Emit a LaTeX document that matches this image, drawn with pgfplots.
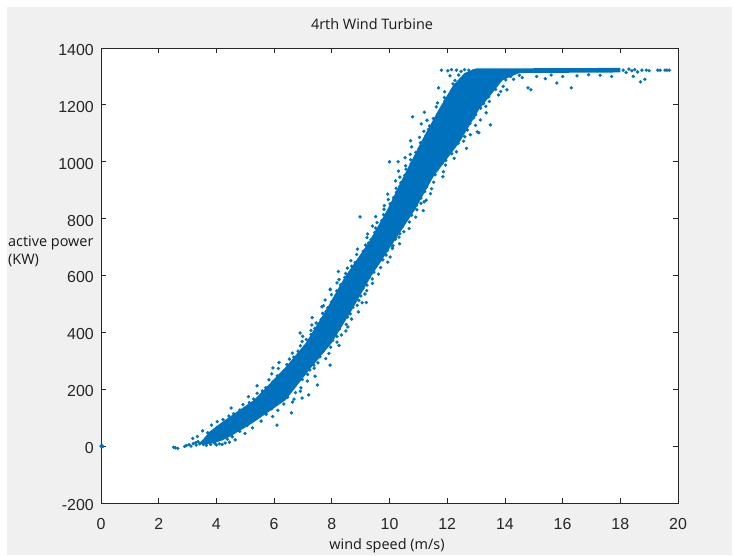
\documentclass[border=0pt]{standalone}
\usepackage{pgfplots}
\pgfplotsset{compat=1.18}
\usepackage{fontspec}
\setmainfont{Open Sans}
\newfontfamily\tickfont{Liberation Sans}
\definecolor{mblue}{HTML}{0072BD}
\definecolor{figbg}{HTML}{F0F0F0}
\begin{document}
\begin{tikzpicture}
\fill[white] (0,0) rectangle (734bp,-556bp);
\fill[figbg] (7bp,-7bp) rectangle (732bp,-555bp);
\begin{axis}[
  at={(101bp,-503bp)}, anchor=south west,
  scale only axis, width=577bp, height=455bp,
  xmin=0, xmax=20, ymin=-200, ymax=1400,
  xtick={0,2,...,20}, ytick={-200,0,...,1400},
  tick align=inside, major tick length=5bp,
  axis background/.style={fill=white},
  axis line style={black!85, line width=0.8bp},
  every tick/.style={black!85, line width=0.8bp},
  ticklabel style={font=\tickfont\fontsize{16}{19}\selectfont, text=black!85},
  /pgf/number format/assume math mode=true,
  /pgf/number format/1000 sep={},
  xticklabel style={anchor=north, inner sep=0pt, yshift=-15bp},
  yticklabel style={anchor=east, inner sep=0pt, xshift=-7bp, yshift=-2bp},
  title={4rth Wind Turbine},
  title style={at={(axis description cs:0.4697,1)}, anchor=base, yshift=13bp, inner sep=0pt, font=\fontsize{14.5}{18}\selectfont, text=black!90},
  xlabel={wind speed (m/s)},
  xlabel style={at={(axis description cs:0.4957,0)}, anchor=base, yshift=-46bp, inner sep=0pt, font=\fontsize{14.5}{18}\selectfont, text=black!90},
  ylabel={active power\\(KW)},
  ylabel style={rotate=-90, align=left, anchor=north west, inner sep=0pt, font=\fontsize{14.5}{18}\selectfont, text=black!90, at={(axis description cs:-0.1612,0.5868)}},
  clip=false,
]
% dense core of the point cloud
\addplot[fill=mblue, draw=none, mark=none, forget plot] coordinates {
(3.4,10)(3.55,25)(3.75,50)(4.15,81)(4.7,120)(5.3,162)(5.85,220)(6.4,278)(7.1,363)(7.8,479)
(8.45,595)(9.27,715)(9.92,831)(10.48,947)(11.08,1067)(11.7,1183)(12.2,1268)(12.6,1312)(13.0,1328)
(18.0,1330)(18.0,1314)(14.5,1312)(13.92,1287)(13.1,1183)(12.42,1067)(11.52,947)(10.88,831)
(10.13,715)(9.35,595)(8.7,479)(8.0,363)(7.3,278)(6.4,162)(5.25,81)(4.5,35)(4.2,20)(3.9,10)(3.6,6)
};
% individual points
\addplot[only marks, mark=*, mark size=1.5bp, mblue, mark options={draw=mblue, fill=mblue}] coordinates {
(0,0)(0.03,2)(0.06,-2)
(2.52,-4)(2.58,-6)(2.66,-8)(2.9,-1)(2.96,2)(3.05,5)(3.12,0)(3.2,9)(3.28,12)(3.3,4)(3.36,16)(3.42,8)(3.5,13)(3.55,6)
(3.65,3)(3.8,6)(3.95,10)(4.1,8)(4.3,11)(4.0,4)(3.72,16)(4.45,14)(4.65,22)(4.2,6)
(3.34,34)(3.18,27)(4.38,24)(4.55,33)
(3.7,47)(3.52,54)(4.81,52)(4.99,45)
(3.83,74)(4.02,66)(5.06,72)(5.25,64)
(4.23,93)(4.03,86)(5.55,88)(5.33,95)
(4.43,106)(4.6,114)(5.73,112)(5.95,104)
(4.51,134)(4.81,127)(5.92,131)(6.13,126)
(5.14,153)(4.92,146)(6.34,148)(6.64,155)
(5.29,166)(5.11,174)(6.47,172)(6.69,165)
(5.59,194)(5.41,186)(6.74,188)(6.91,193)
(5.41,212)(5.71,206)(6.73,213)(6.93,205)
(5.82,233)(5.96,226)(7.15,229)(6.98,234)
(6.11,247)(5.92,254)(7.16,252)(7.42,246)
(6.15,273)(6.36,266)(7.24,268)(7.39,274)
(6.44,287)(6.17,294)(7.52,293)(7.38,285)
(6.68,313)(6.53,306)(7.79,308)(7.59,314)
(6.63,327)(6.83,334)(7.7,333)(7.9,326)
(6.91,353)(7.04,346)(7.96,348)(8.25,354)
(6.97,368)(7.12,375)(8.03,372)(8.18,366)
(7.28,393)(6.99,386)(8.33,391)(8.18,386)
(7.28,407)(7.41,414)(8.26,412)(8.49,405)
(7.46,433)(7.31,426)(8.5,428)(8.35,435)
(7.32,452)(7.63,446)(8.55,454)(8.69,447)
(7.68,467)(7.8,474)(8.92,472)(8.64,465)
(7.71,494)(7.86,486)(8.73,488)(8.88,495)
(7.99,507)(7.77,514)(8.94,512)(9.2,505)
(7.99,533)(8.14,526)(9.01,528)(9.15,535)
(7.95,552)(8.17,546)(9.08,554)(9.21,547)
(8.3,567)(8.18,574)(9.41,572)(9.22,566)
(8.45,593)(8.25,586)(9.4,588)(9.29,594)
(8.48,607)(8.23,614)(9.46,612)(9.62,605)
(8.69,633)(8.54,626)(9.69,628)(9.54,635)
(8.66,652)(8.81,646)(9.69,654)(9.94,647)
(9.01,667)(8.86,674)(9.88,672)(10.02,665)
(8.89,693)(9.09,686)(9.93,688)(10.1,695)
(9.17,707)(9.27,714)(10.35,712)(10.12,705)
(9.22,733)(9.36,726)(10.21,728)(10.33,735)
(9.49,752)(9.24,746)(10.5,754)(10.36,747)
(9.52,767)(9.41,774)(10.45,772)(10.68,765)
(9.73,793)(9.57,786)(10.69,788)(10.59,795)
(9.52,807)(9.79,814)(10.77,812)(10.91,805)
(9.81,833)(9.95,826)(11.17,828)(10.85,835)
(10.02,852)(9.82,846)(11.09,854)(10.94,847)
(9.96,867)(10.14,874)(11.09,872)(11.27,865)
(10.24,893)(9.94,886)(11.42,888)(11.22,895)
(10.23,907)(10.36,914)(11.29,912)(11.46,905)
(10.21,933)(10.39,926)(11.53,928)(11.38,935)
(10.53,952)(10.36,946)(11.58,954)(11.85,947)
(10.31,967)(10.57,974)(11.65,972)(11.87,965)
(10.75,993)(10.56,986)(11.94,988)(11.83,995)
(10.73,1007)(10.54,1014)(12.24,1012)(11.95,1005)
(10.91,1033)(10.72,1026)(12.16,1028)(12.32,1035)
(10.77,1052)(11.03,1046)(12.25,1054)(12.67,1047)
(11.07,1067)(10.73,1074)(12.57,1072)(12.38,1065)
(11.27,1093)(11.04,1086)(12.61,1088)(12.8,1095)
(11.19,1107)(11.35,1114)(12.63,1112)(13.04,1105)
(11.1,1133)(11.39,1126)(12.98,1128)(12.79,1135)
(11.52,1152)(11.3,1146)(12.92,1154)(13.15,1147)
(11.67,1167)(11.21,1174)(13.35,1172)(12.99,1165)
(11.62,1193)(11.82,1186)(13.16,1188)(13.34,1195)
(11.66,1207)(11.92,1214)(13.46,1212)(13.26,1205)
(12.14,1233)(11.9,1226)(13.44,1228)(13.78,1235)
(12.17,1252)(11.91,1246)(13.68,1254)(13.85,1247)
(12.45,1267)(12.2,1274)(13.73,1272)(13.94,1265)
(12.57,1293)(12.27,1286)(14.03,1288)(13.9,1294)
(12.4,1305)(12.75,1308)(12.1,1302)(14.2,1300)(14.5,1304)(13.6,1306)
(11.8,1322)(12.02,1320)(12.15,1324)(12.32,1322)(12.48,1318)(12.6,1324)(12.75,1322)(12.9,1320)
(6.1,74)(6.6,117)(6.97,169)(7.2,180)(7.5,215)(7.94,285)(8.56,419)(9.05,504)(8.98,806)
(10.0,1000)(10.3,1000)(10.8,1158)(11.7,1260)(11.2,859)(10.95,831)(12.2,1052)(12.7,1112)
(13.1,1102)(13.5,1130)(5.96,275)(7.66,490)(7.94,550)(6.9,398)(10.1,700)(9.77,655)
(14.07,1253)(14.3,1290)(14.6,1296)(14.8,1260)(14.9,1253)(15.1,1300)(15.4,1292)(15.6,1305)
(15.8,1277)(16.0,1300)(16.3,1260)(16.5,1302)(16.9,1306)(17.3,1304)(17.7,1300)
(18.1,1322)(18.2,1314)(18.3,1326)(18.4,1320)(18.45,1300)(18.5,1324)(18.6,1316)(18.7,1281)
(18.75,1322)(18.85,1290)(18.9,1322)(19.0,1320)
(19.3,1322)(19.38,1322)(19.55,1322)(19.62,1322)(19.7,1322)
};
\end{axis}
\end{tikzpicture}
\end{document}
